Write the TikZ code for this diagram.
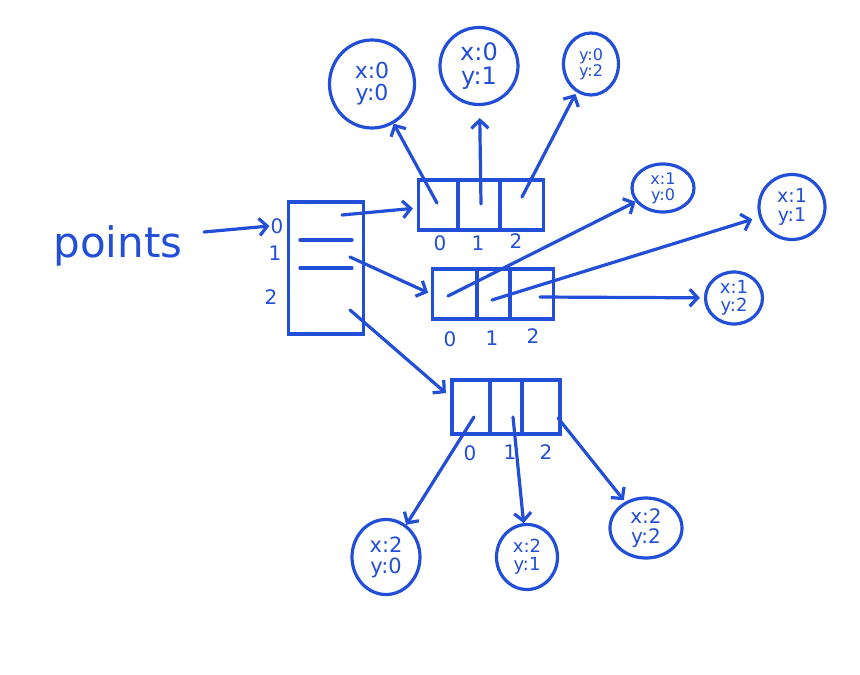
\documentclass[tikz,border=0pt]{standalone}
\usepackage{fontspec}
\setmainfont{DejaVu Sans}
\usetikzlibrary{shapes.geometric,arrows.meta}
\definecolor{ink}{RGB}{35,78,215}
\begin{document}
\begin{tikzpicture}[x=1pt,y=-1pt,
  inkline/.style={draw=ink, line width=3.2pt, line cap=round, line join=round},
  ptr/.style={inkline, -{Straight Barb[length=8pt,width=17pt]}},
  rec/.style={ellipse, draw=ink, line width=3.2pt, inner sep=0pt, align=center, text=ink},
  arr/.style={rectangle, draw=ink, line width=3.2pt, inner sep=0pt},
  idx/.style={text=ink, font=\fontsize{20}{20}\selectfont, inner sep=1pt},
  fs/.style={font=\fontsize{#1}{#1}\selectfont},
]
\path[use as bounding box, fill=white] (0,0) rectangle (860,675);

% label
\node[text=ink, fs=42] (points) at (118,246) {points};

% main array
\node[arr, minimum width=75pt, minimum height=132pt] (P) at (326,268) {};
\draw[inkline] (300,240) -- (352,240);
\draw[inkline] (300,268) -- (352,268);
\node[idx] (i0) at (277,226) {0};
\node[idx] (i1) at (275,253) {1};
\node[idx] (i2) at (271,297) {2};
\coordinate (p0) at (342,215);
\coordinate (p1) at (350,257);
\coordinate (p2) at (350,310);
\draw[ptr] ([xshift=18pt,yshift=14pt]points.east) -- (i0.west);

% top array
\node[arr, minimum width=125pt, minimum height=50pt] (A0) at (481,205) {};
\draw[inkline] (458,182) -- (458,228);
\draw[inkline] (500,182) -- (500,228);
\node[idx] (t0) at (440,243) {0};
\node[idx] (t1) at (478,243) {1};
\node[idx] (t2) at (516,241) {2};
\coordinate (a00) at (437,203);
\coordinate (a01) at (481,204);
\coordinate (a02) at (522,197);

% middle array
\node[arr, minimum width=121pt, minimum height=50pt] (A1) at (493,294) {};
\draw[inkline] (477,270) -- (477,318);
\draw[inkline] (510,270) -- (510,318);
\node[idx] (m0) at (450,339) {0};
\node[idx] (m1) at (492,338) {1};
\node[idx] (m2) at (533,336) {2};
\coordinate (a10) at (448,296);
\coordinate (a11) at (492,300);
\coordinate (a12) at (540,297);

% bottom array
\node[arr, minimum width=108pt, minimum height=54pt] (A2) at (506,407) {};
\draw[inkline] (490,382) -- (490,432);
\draw[inkline] (522,382) -- (522,432);
\node[idx] (b0) at (470,453) {0};
\node[idx] (b1) at (510,452) {1};
\node[idx] (b2) at (546,452) {2};
\coordinate (a20) at (474,417);
\coordinate (a21) at (513,417);
\coordinate (a22) at (558,418);

% records
\node[rec, fs=22, minimum width=85pt, minimum height=88pt] (c00) at (372,84) {x:0\\y:0};
\node[rec, fs=24, minimum width=78pt, minimum height=77pt] (c01) at (479,66) {x:0\\y:1};
\node[rec, fs=16, minimum width=55pt, minimum height=62pt] (c02) at (591,64) {y:0\\y:2};
\node[rec, fs=16, minimum width=62pt, minimum height=48pt] (c10) at (663,188) {x:1\\y:0};
\node[rec, fs=19, minimum width=66pt, minimum height=65pt] (c11) at (792,207) {x:1\\y:1};
\node[rec, fs=18, minimum width=57pt, minimum height=52pt] (c12) at (734,298) {x:1\\y:2};
\node[rec, fs=21, minimum width=68pt, minimum height=75pt] (c20) at (386,557) {x:2\\y:0};
\node[rec, fs=18, minimum width=61pt, minimum height=65pt] (c21) at (527,557) {x:2\\y:1};
\node[rec, fs=20, minimum width=72pt, minimum height=60pt] (c22) at (646,528) {x:2\\y:2};

% pointers from main array
\draw[ptr, shorten >=4pt] (p0) -- ([yshift=-3pt]A0.west);
\draw[ptr, shorten >=3pt] (p1) -- (A1.west);
\draw[ptr, shorten >=6pt] (p2) -- ([yshift=10pt]A2.west);

% pointers to records
\draw[ptr] (a00) -- (c00);
\draw[ptr, shorten >=12pt] (a01) -- (c01);
\draw[ptr, shorten >=2pt] (a02) -- (c02);
\draw[ptr] (a10) -- (c10);
\draw[ptr, shorten >=7pt] (a11) -- (c11);
\draw[ptr, shorten >=4pt] (a12) -- (c12);
\draw[ptr] (a20) -- (c20);
\draw[ptr] (a21) -- (c21);
\draw[ptr, shorten >=2pt] (a22) -- (c22);
\end{tikzpicture}
\end{document}
